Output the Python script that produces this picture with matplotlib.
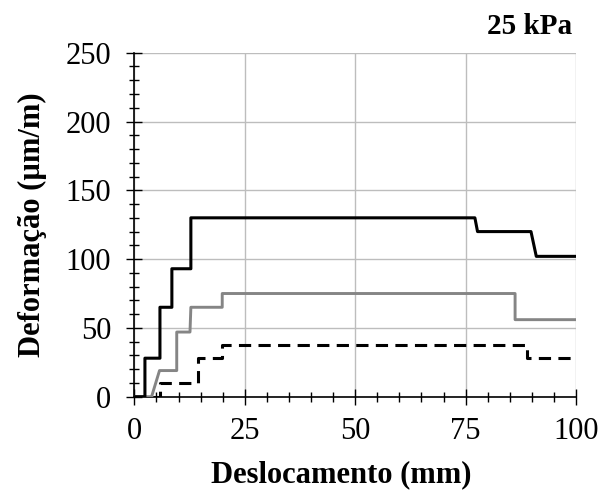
import matplotlib
matplotlib.use("Agg")
import matplotlib.pyplot as plt
from matplotlib.ticker import MultipleLocator

# Strain (µm/m) versus displacement (mm), three gauges at 25 kPa
disp_a = [0, 2.4, 2.4, 5.8, 5.8, 8.5, 8.5, 12.8, 12.8, 77.1, 77.7, 89.8, 91.0, 100]
strain_a = [0, 0, 28, 28, 65, 65, 93, 93, 130, 130, 120, 120, 102, 102]

disp_b = [0, 3.9, 5.7, 9.6, 9.6, 12.6, 12.8, 19.9, 19.9, 86.2, 86.2, 100]
strain_b = [0, 0, 19, 19, 47, 47, 65, 65, 75, 75, 56, 56]

disp_c = [0, 5.8, 5.8, 14.5, 14.5, 19.8, 19.8, 88.8, 88.8, 100]
strain_c = [0, 0, 10, 10, 28, 28, 37.5, 37.5, 28, 28]

x_ticks = [0, 25, 50, 75, 100]
y_ticks = [0, 50, 100, 150, 200, 250]

plt.rcParams['font.family'] = ['Liberation Serif', 'DejaVu Serif']

fig = plt.figure(figsize=(6.07, 4.93), dpi=100)
ax = fig.add_axes([0.2213, 0.1953, 0.949 - 0.2213, 0.8931 - 0.1953])

ax.plot(disp_c, strain_c, color='black', lw=2.2, dashes=(4, 2.4), zorder=3)
ax.plot(disp_b, strain_b, color='#858585', lw=2.1, zorder=3)
ax.plot(disp_a, strain_a, color='black', lw=2.2, zorder=4)

ax.set_xlim(0, 100)
ax.set_ylim(0, 250)
ax.set_xticks(x_ticks)
ax.set_yticks(y_ticks)
ax.xaxis.set_minor_locator(MultipleLocator(5))
ax.yaxis.set_minor_locator(MultipleLocator(10))
ax.tick_params(which='major', direction='inout', length=11.5, width=1.0,
               labelsize=22, color='black')
ax.tick_params(which='minor', direction='inout', length=7.5, width=1.0,
               color='black')
ax.tick_params(axis='y', which='major', pad=11)
ax.tick_params(axis='x', which='major', pad=9)

ax.grid(True, which='major', color='#bdbdbd', lw=1.0, zorder=0)
ax.set_axisbelow(True)
for side in ('top', 'right'):
    ax.spines[side].set_visible(False)
for side in ('left', 'bottom'):
    ax.spines[side].set_linewidth(1.2)
    ax.spines[side].set_color('black')

ax.set_xlabel('Deslocamento (mm)', fontsize=22, fontweight='bold')
ax.set_ylabel('Deformação (µm/m)', fontsize=22, fontweight='bold')
ax.xaxis.set_label_coords(0.468, -0.185)
ax.yaxis.set_label_coords(-0.198, 0.5)
fig.text(0.942, 0.947, '25 kPa', fontsize=21, fontweight='bold',
         ha='right', va='center')

fig.savefig('out.png', dpi=100)
